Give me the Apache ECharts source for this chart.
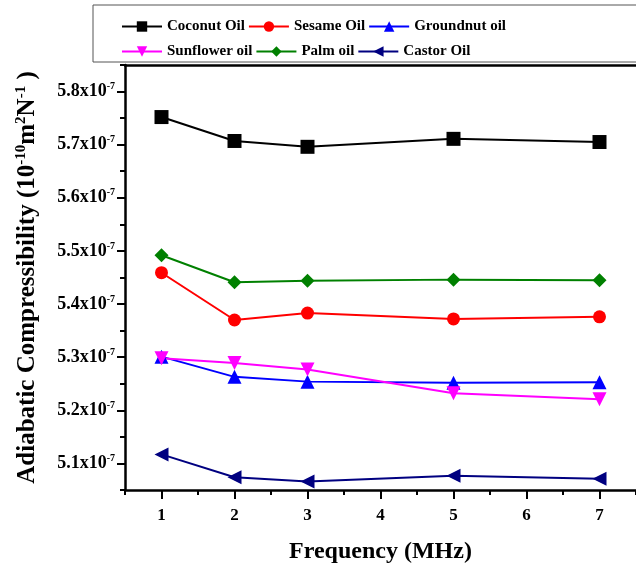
<!DOCTYPE html>
<html>
<head>
<meta charset="utf-8">
<script src="https://cdn.jsdelivr.net/npm/echarts@6/dist/echarts.min.js"></script>
<style>
  html, body { margin: 0; padding: 0; background: #fff; }
  #main { width: 636px; height: 565px; }
</style>
</head>
<body>
<div id="main"></div>
<script>
// frequencies (MHz) and compressibility values in units of 1e-7
var frequency = [1, 2, 3, 5, 7];
var coconutOil   = [5.752, 5.707, 5.696, 5.711, 5.705];
var sesameOil    = [5.459, 5.370, 5.383, 5.372, 5.376];
var groundnutOil = [5.301, 5.263, 5.254, 5.252, 5.253];
var sunflowerOil = [5.298, 5.289, 5.277, 5.232, 5.221];
var palmOil      = [5.492, 5.441, 5.444, 5.446, 5.445];
var castorOil    = [5.117, 5.074, 5.066, 5.077, 5.071];

// tick labels
var xTicks = [1, 2, 3, 4, 5, 6, 7];
var yTicks = [5.1, 5.2, 5.3, 5.4, 5.5, 5.6, 5.7, 5.8];

var font = 'Liberation Serif';

function pairs(vals) {
    return frequency.map(function (f, i) { return [f, vals[i]]; });
}

function makeSeries(name, vals, color, symbol, rotate) {
    return {
        name: name,
        type: 'line',
        data: pairs(vals),
        symbol: symbol,
        symbolSize: symbol === 'circle' ? 13 : 14,
        symbolRotate: rotate || 0,
        lineStyle: { color: color, width: 2 },
        itemStyle: { color: color, borderWidth: 0 },
        emphasis: { disabled: true },
        z: 3
    };
}

var myChart = echarts.init(document.getElementById('main'), null, { renderer: 'canvas' });

var legendText = { fontFamily: font, fontWeight: 'bold', fontSize: 15, color: '#000' };
var black = { color: '#000', width: 2.5 };

var option = {
    backgroundColor: '#fff',
    animation: false,
    graphic: [{
        type: 'rect',
        shape: { x: 93, y: 5, width: 560, height: 57 },
        style: { fill: '#fff', stroke: '#555', lineWidth: 1 },
        z: 0
    }],
    legend: [{
        data: ['Coconut Oil', 'Sesame Oil', 'Groundnut oil'],
        left: 121, top: 19,
        itemWidth: 40, itemHeight: 13, itemGap: 3,
        textStyle: legendText,
        padding: 0
    }, {
        data: ['Sunflower oil', 'Palm oil', 'Castor Oil'],
        left: 121, top: 44,
        itemWidth: 40, itemHeight: 13, itemGap: 3,
        textStyle: legendText,
        padding: 0
    }],
    grid: { left: 125, right: 0, top: 65, bottom: 75, outerBoundsMode: 'none', containLabel: false },
    xAxis: [{
        type: 'value',
        min: 0.5, max: 7.5, interval: 0.5,
        name: 'Frequency (MHz)',
        nameLocation: 'middle',
        nameGap: 50,
        nameTextStyle: { fontFamily: font, fontWeight: 'bold', fontSize: 24, color: '#000' },
        axisLine: { lineStyle: black },
        axisTick: { length: 5, lineStyle: { color: '#000', width: 2 } },
        axisLabel: {
            fontFamily: font, fontWeight: 'bold', fontSize: 17, color: '#000', margin: 17,
            customValues: xTicks
        },
        splitLine: { show: false }
    }, {
        // longer major ticks
        type: 'value',
        position: 'bottom',
        min: 0.5, max: 7.5,
        axisLine: { show: false },
        axisTick: { length: 9, customValues: xTicks, lineStyle: { color: '#000', width: 2 } },
        axisLabel: { show: false },
        splitLine: { show: false }
    }, {
        // top frame line
        type: 'value',
        position: 'top',
        min: 0.5, max: 7.5,
        axisLine: { lineStyle: black },
        axisTick: { show: false },
        axisLabel: { show: false },
        splitLine: { show: false }
    }],
    yAxis: [{
        type: 'value',
        min: 5.05, max: 5.85, interval: 0.05,
        name: 'Adiabatic Compressibility (10{s|-10}m{s|2}N{s|-1} )',
        nameLocation: 'middle',
        nameGap: 84,
        nameTextStyle: {
            fontFamily: font, fontWeight: 'bold', fontSize: 25, color: '#000',
            rich: { s: { fontFamily: font, fontWeight: 'bold', fontSize: 15, color: '#000', padding: [0, 0, 12, 0] } }
        },
        axisLine: { lineStyle: black },
        axisTick: { length: 5, lineStyle: { color: '#000', width: 2 } },
        axisLabel: {
            margin: 10,
            customValues: yTicks,
            formatter: function (v) {
                return '{a|' + v.toFixed(1) + 'x10}{s|-7}';
            },
            rich: {
                a: { fontFamily: font, fontWeight: 'bold', fontSize: 18, color: '#000' },
                s: { fontFamily: font, fontWeight: 'bold', fontSize: 10, color: '#000', padding: [0, 0, 10, 0] }
            }
        },
        splitLine: { show: false }
    }, {
        // longer major ticks
        type: 'value',
        position: 'left',
        min: 5.05, max: 5.85,
        axisLine: { show: false },
        axisTick: { length: 8, customValues: yTicks, lineStyle: { color: '#000', width: 2 } },
        axisLabel: { show: false },
        splitLine: { show: false }
    }],
    series: [
        makeSeries('Coconut Oil', coconutOil, '#000000', 'rect'),
        makeSeries('Sesame Oil', sesameOil, '#ff0000', 'circle'),
        makeSeries('Groundnut oil', groundnutOil, '#0000ff', 'triangle'),
        makeSeries('Sunflower oil', sunflowerOil, '#ff00ff', 'triangle', 180),
        makeSeries('Palm oil', palmOil, '#008000', 'diamond'),
        makeSeries('Castor Oil', castorOil, '#000080', 'triangle', 90)
    ]
};

myChart.setOption(option);
</script>
</body>
</html>
